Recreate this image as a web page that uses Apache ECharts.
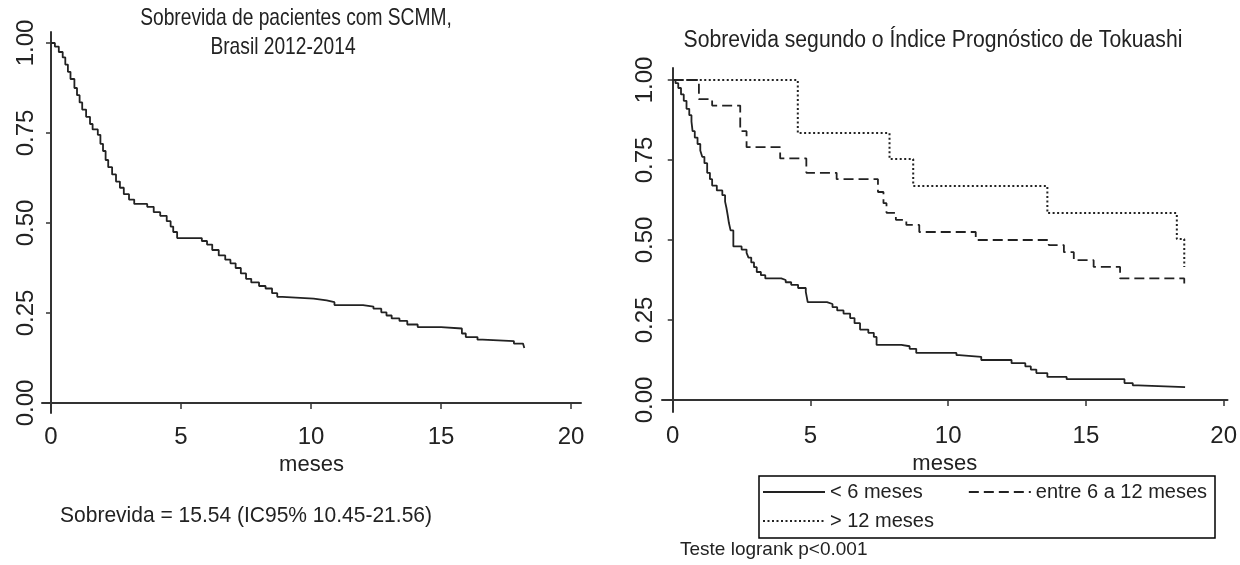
<!DOCTYPE html>
<html>
<head>
<meta charset="utf-8">
<title>Sobrevida SCMM</title>
<script src="https://cdn.jsdelivr.net/npm/echarts@6/dist/echarts.min.js"></script>
<style>
  html, body { margin: 0; padding: 0; background: #fff; }
  #chart { width: 1240px; height: 565px; }
</style>
</head>
<body>
<div id="chart"></div>
<script>
// eixos
const xTicks = [0, 5, 10, 15, 20]
const yTicks = [0, 0.25, 0.5, 0.75, 1]

// painel esquerdo: sobrevida global (meses / proporção)
const allTime = [0, 0.15, 0.3, 0.45, 0.55, 0.65, 0.75, 0.9, 1.0, 1.1, 1.2, 1.35, 1.5, 1.6, 1.8, 1.9, 2.0, 2.1, 2.2, 2.35,
  2.5, 2.65, 2.8, 3.0, 3.2, 3.7, 3.95, 4.2, 4.45, 4.6, 4.7, 4.85, 5.8, 6.0, 6.2, 6.45, 6.7, 6.9, 7.1, 7.3,
  7.5, 7.7, 8.0, 8.25, 8.5, 8.7, 8.9, 10.1, 10.6, 10.9, 12.0, 12.4, 12.7, 12.9, 13.1, 13.4, 13.7, 14.1, 15.0, 15.8,
  15.95, 16.4, 16.6, 17.8, 18.15, 18.2]
const allSurv = [1.0, 0.99, 0.975, 0.96, 0.94, 0.92, 0.90, 0.875, 0.855, 0.835, 0.815, 0.795, 0.775, 0.76, 0.745, 0.72, 0.70, 0.675, 0.655, 0.635,
  0.615, 0.598, 0.58, 0.565, 0.553, 0.545, 0.53, 0.52, 0.505, 0.49, 0.475, 0.458, 0.45, 0.44, 0.425, 0.41, 0.398, 0.388, 0.375, 0.36,
  0.345, 0.335, 0.325, 0.318, 0.305, 0.295, 0.29, 0.285, 0.28, 0.272, 0.268, 0.262, 0.252, 0.243, 0.235, 0.228, 0.218, 0.211, 0.207, 0.193,
  0.183, 0.176, 0.172, 0.165, 0.16, 0.153]

// painel direito: índice de Tokuashi
const lowTime = [0, 0.1, 0.2, 0.3, 0.4, 0.5, 0.6, 0.68, 0.72, 0.8, 0.9, 1.0, 1.07, 1.15, 1.25, 1.35, 1.43, 1.6, 1.8, 1.9,
  1.95, 2.0, 2.04, 2.1, 2.2, 2.5, 2.68, 2.75, 2.85, 2.95, 3.05, 3.2, 3.36, 3.94, 4.1, 4.3, 4.55, 4.83, 4.9, 5.6,
  5.8, 5.97, 6.2, 6.44, 6.6, 6.8, 7.1, 7.3, 7.4, 8.3, 8.6, 8.84, 10.3, 10.4, 11.2, 12.3, 12.8, 13.0, 13.2, 13.6,
  14.3, 16.4, 16.7, 16.9, 18.6]
const lowSurv = [1.0, 0.99, 0.975, 0.955, 0.935, 0.91, 0.89, 0.87, 0.84, 0.82, 0.80, 0.78, 0.76, 0.74, 0.71, 0.69, 0.67, 0.655, 0.64, 0.62,
  0.60, 0.575, 0.553, 0.53, 0.48, 0.47, 0.46, 0.445, 0.43, 0.415, 0.40, 0.39, 0.38, 0.375, 0.368, 0.36, 0.35, 0.338, 0.306, 0.30,
  0.29, 0.28, 0.27, 0.256, 0.24, 0.22, 0.21, 0.197, 0.172, 0.168, 0.16, 0.147, 0.14, 0.135, 0.125, 0.115, 0.105, 0.095, 0.084, 0.072,
  0.065, 0.053, 0.046, 0.04, 0.04]

const midTime = [0, 0.95, 1.43, 2.45, 2.68, 3.9, 4.85, 5.95, 7.45, 7.65, 7.76, 8.1, 8.48, 8.95, 11.0, 13.65, 14.2, 14.56, 15.28, 16.24, 18.57]
const midSurv = [1.0, 0.94, 0.92, 0.84, 0.79, 0.755, 0.71, 0.69, 0.65, 0.615, 0.585, 0.563, 0.547, 0.525, 0.50, 0.484, 0.462, 0.437, 0.416, 0.38, 0.36]

const highTime = [0, 4.54, 7.87, 8.73, 13.6, 18.3, 18.57]
const highSurv = [1.0, 0.834, 0.753, 0.669, 0.584, 0.503, 0.416]

const groupNames = ['< 6 meses', 'entre 6 a 12 meses', '> 12 meses']

const font = 'Liberation Sans, Arial, sans-serif'
const ink = '#222'

const pairs = (t, s) => t.map((v, i) => [v, s[i]])

function xAxisOf(gridIndex, min, max) {
  return {
    gridIndex, type: 'value', min, max,
    name: 'meses', nameLocation: 'middle', nameGap: 38,
    nameTextStyle: { fontFamily: font, fontSize: 22, color: ink },
    axisLine: { show: true, lineStyle: { color: '#333', width: 2 } },
    axisTick: { show: true, length: 6, customValues: xTicks, lineStyle: { color: '#333', width: 1.5 } },
    axisLabel: { customValues: xTicks, margin: 12, fontFamily: font, fontSize: 24, color: ink },
    splitLine: { show: false },
  }
}

function yAxisOf(gridIndex, min, max, margin) {
  return {
    gridIndex, type: 'value', min, max,
    axisLine: { show: true, lineStyle: { color: '#333', width: 2 } },
    axisTick: { show: true, length: 5, customValues: yTicks, lineStyle: { color: '#333', width: 1.5 } },
    axisLabel: {
      customValues: yTicks, rotate: 90, margin,
      fontFamily: font, fontSize: 24, color: ink,
      formatter: v => v.toFixed(2),
    },
    splitLine: { show: false },
  }
}

function kmLine(name, xi, data, type, width) {
  return {
    name, type: 'line', step: 'end', xAxisIndex: xi, yAxisIndex: xi,
    data, symbol: 'none', showSymbol: false,
    lineStyle: { color: ink, width: width || 1.8, type },
    itemStyle: { color: ink },
  }
}

function label(text, x, y, size, sx, align) {
  return {
    type: 'text', x, y, scaleX: sx,
    style: { text, fontFamily: font, fontSize: size, fill: ink, align: align || 'center', verticalAlign: 'middle' },
  }
}

// legenda sem marcador, só a linha
const legendBase = {
  left: 762, padding: 0, itemWidth: 62, itemHeight: 20, selectedMode: false,
  itemStyle: { color: 'rgba(0,0,0,0)', borderWidth: 0, opacity: 0 },
  textStyle: { fontFamily: font, fontSize: 20, color: ink },
}

const chart = echarts.init(document.getElementById('chart'))
chart.setOption({
  animation: false,
  backgroundColor: '#fff',
  grid: [
    { left: 42, top: 32, width: 539, height: 381 },
    { left: 662, top: 68, width: 574, height: 344 },
  ],
  xAxis: [xAxisOf(0, -0.346, 20.38), xAxisOf(1, -0.39, 20.14)],
  yAxis: [yAxisOf(0, -0.0278, 1.0306, 4), yAxisOf(1, -0.0375, 1.0375, 5)],
  legend: [
    { ...legendBase, data: groupNames.slice(0, 2), top: 482, itemGap: 45 },
    { ...legendBase, data: groupNames.slice(2), top: 511 },
  ],
  series: [
    kmLine('Sobrevida', 0, pairs(allTime, allSurv), 'solid'),
    kmLine(groupNames[0], 1, pairs(lowTime, lowSurv), 'solid'),
    kmLine(groupNames[1], 1, pairs(midTime, midSurv), [10, 5]),
    kmLine(groupNames[2], 1, pairs(highTime, highSurv), [2, 2.5], 2),
  ],
  graphic: [
    label('Sobrevida de pacientes com SCMM,', 296, 18, 24, 0.8),
    label('Brasil 2012-2014', 283, 47, 24, 0.8),
    label('Sobrevida segundo o Índice Prognóstico de Tokuashi', 933, 41, 23, 0.92),
    label('Sobrevida = 15.54 (IC95% 10.45-21.56)', 60, 516, 22, 0.955, 'left'),
    label('Teste logrank p<0.001', 680, 550, 19, 1, 'left'),
    {
      type: 'rect', shape: { x: 759, y: 476, width: 456, height: 62 },
      style: { fill: 'none', stroke: '#000', lineWidth: 1.5 },
    },
  ],
})
</script>
</body>
</html>
